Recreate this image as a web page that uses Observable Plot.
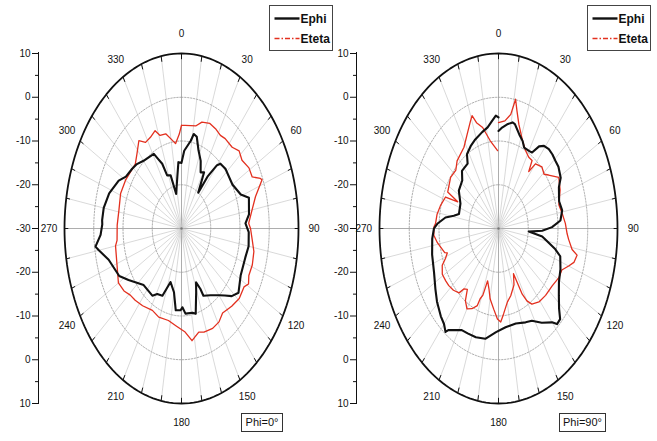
<!DOCTYPE html>
<html>
<head>
<meta charset="utf-8">
<script src="https://cdn.jsdelivr.net/npm/d3@7"></script>
<script src="https://cdn.jsdelivr.net/npm/@observablehq/plot@0.6"></script>
<style>
  html, body { margin: 0; padding: 0; background: #fff; }
  #wrap { position: relative; width: 657px; height: 441px; overflow: hidden; background: #fff; }
  .panel { position: absolute; top: 0; }
  #overlay { position: absolute; left: 0; top: 0; pointer-events: none; }
</style>
</head>
<body>
<div id="wrap"></div>
<script>
// ---------- data ----------
const angleLabels = [0, 30, 60, 90, 120, 150, 180, 210, 240, 270, 300, 330];
const spokeAngles = d3.range(0, 360, 10);
const ringValues = [-20, -10, 0];
const outerValue = 10;
const centreValue = -30;
const radialTicks = [-40, -30, -20, -10, 0, 10, 20, 30, 40];
const radialMinorTicks = [-35, -25, -15, -5, 5, 15, 25, 35];
const seriesNames = ["Ephi", "Eteta"];
const panelTitles = ["Phi=0°", "Phi=90°"];

// Phi = 0°
const phi0EphiAngle = [0,3,9,11,14,18,23,27,31,35,37,40,42,48,60,69,73,82,87,92,100,107,118,127,132,136,140,147,154,155,158,161,166,169,176,179,181,186,190,197,203,209,213,225,237,243,254,260,262,267,272,274,280,288,297,302,309,314,320,331,333,336,338,343,347,353,356,360];
const phi0EphiDb = [-15,-12.2,-9.7,-8,-8.4,-11.2,-13.2,-15.6,-15,-20,-15,-11.1,-10.1,-9.7,-9.9,-8.3,-5.9,-6.7,-8.1,-7,-6.7,-7.2,-7.1,-5.6,-6.9,-8.7,-10.1,-11.8,-12.9,-14.8,-16.7,-14.6,-9.9,-10.4,-10.5,-12,-11.3,-11.2,-15.2,-17.2,-13.3,-12.9,-11.7,-11.7,-8.4,-6.1,-4.1,-1.3,-0.3,-2.3,-2.9,-2.8,-3,-4,-5.9,-7.6,-8.3,-8.8,-9.8,-10.5,-12,-13.8,-16.9,-17.3,-21.9,-18.2,-14.8,-15];
const phi0EtetaAngle = [0,3,12,16,22,27,32,36,43,48,53,59,64,67,68,74,80,87,90,96,102,109,115,119,122,129,136,144,149,155,162,166,172,177,185,192,201,208,217,224,229,234,240,249,260,263,272,281,291,300,307,313,318,324,328,333,338,341,346,350,354,358,360];
const phi0EtetaDb = [-6.4,-6.4,-6,-4.7,-4.1,-4.4,-4.9,-4.6,-4.6,-3.5,-4.1,-3.1,-3.1,-0.7,-0.3,-3.7,-5.5,-7,-6.4,-5.7,-4.7,-4.4,-4.6,-3.8,-4.8,-4.6,-5.3,-6.1,-5.1,-4.8,-5.1,-5.6,-4.1,-6.3,-7.7,-8.5,-8.3,-8.8,-7.9,-7.2,-6.8,-5.7,-5.1,-6.4,-7.1,-7.8,-8,-8.2,-7.7,-7.9,-8.3,-8.4,-7.2,-5.2,-6.8,-6.6,-5.9,-7.5,-7.7,-9.2,-10.5,-8.4,-6.4];

// Phi = 90°
const phi90EphiAngle = [0,3,7,11,13,18,22,25,30,33,36,39,43,47,51,55,61,65,73,79,85,89,92,94,97,101,104,107,114,121,127,132,135,138,140,146,152,157,165,174,182,190,197,203,208,212,216,217,220,224,231,237,245,255,264,270,273,278,281,284,294,303,312,317,325,328,334,339,346,351,355,358,360];
const phi90EphiDb = [-7.7,-6.9,-6,-5.3,-5.5,-7.4,-8.4,-9.6,-9.5,-9.3,-6.8,-5.7,-5.2,-5.2,-5.4,-5.4,-6.1,-7.6,-8.7,-8.2,-9.1,-12,-15.3,-19.8,-15.2,-12.8,-10.3,-8.3,-7.2,-6.3,-4.6,-2.6,-0.7,-0.6,-2,-4,-6.1,-6.7,-7.5,-7.3,-6.3,-4.4,-4,-3.9,-3.7,-2.6,-1.3,-0.4,-1.5,-2.1,-3.4,-4.7,-6.1,-6.9,-7.6,-8.3,-9.4,-12,-14.7,-16.3,-16,-14.1,-13.6,-12,-11.9,-10,-8.9,-8.2,-7.3,-6.6,-5.3,-4.2,-4.6];
const phi90EtetaAngle = [0,5,9,11,13,16,22,27,32,36,38,40,46,51,54,60,67,75,81,87,93,96,101,103,107,110,114,119,126,134,141,147,150,152,154,158,165,170,175,178,181,185,190,193,197,199,201,202,206,210,214,217,220,222,227,232,236,241,246,249,252,253,261,266,271,273,279,285,292,294,296,299,306,313,318,328,334,339,341,343,347,352,359];
const phi90EtetaDb = [-5.8,-5.3,-3.6,0.1,-2.4,-5.2,-8.4,-10,-10.8,-10.8,-13.5,-10.7,-9.7,-10.3,-9.2,-6.6,-7.5,-9,-8.3,-7.5,-6.9,-6.3,-4.8,-2.9,-3.5,-4.9,-6.7,-6.8,-7.7,-8,-8.4,-9.4,-10.9,-13,-18.5,-16.1,-14.1,-12.9,-10.4,-8.6,-9.3,-11.5,-13.7,-15.8,-17.5,-13.9,-12.8,-11,-9.6,-8.8,-10.1,-12.6,-12,-10.2,-9.3,-8.8,-8.6,-8.4,-9.3,-10.9,-11.9,-11.1,-9.2,-8.2,-8.3,-8.8,-9.1,-9.8,-10.8,-15,-11,-10.8,-10.1,-10.4,-9.2,-8.1,-6,-3.7,-2.7,-4.7,-6.3,-9.7,-12.2];

// ---------- helpers ----------
const FONT = "'Liberation Sans Narrow', 'Arial Narrow', 'Liberation Sans', Arial, sans-serif";
const BLACK = "#111";
const RED = "#e3301f";
const rad = Math.PI / 180;
const px = (a, v) => (v - centreValue) * Math.sin(a * rad);
const py = (a, v) => (v - centreValue) * Math.cos(a * rad);
const zip = (A, V) => A.map((a, i) => ({a, v: V[i]}));

function panel({left, axisX, cx, rx, ephi, eteta}) {
  const rings = [];
  for (const rv of ringValues) for (let a = 0; a <= 360; a += 2) rings.push({ring: rv, a, v: rv});
  const outer = d3.range(0, 361, 2).map(a => ({a, v: outerValue}));
  const labelR = outerValue + 4.5;
  const fig = Plot.plot({
    width: 330, height: 441,
    marginLeft: axisX, marginTop: 52, marginBottom: 38, marginRight: 0,
    x: {domain: [-40, 40], range: [cx - rx, cx + rx], axis: null},
    y: {domain: [-40, 40], range: [403, 53]},
    style: {background: "transparent", fontFamily: FONT, fontSize: "10px", overflow: "visible", color: "#111"},
    marks: [
      // spokes
      Plot.link(spokeAngles, {
        x1: () => 0, y1: () => 0,
        x2: a => px(a, outerValue), y2: a => py(a, outerValue),
        stroke: a => a % 90 === 0 ? "axis" : "minor",
        strokeWidth: 0.7
      }),
      // grid rings
      Plot.line(rings, {x: d => px(d.a, d.v), y: d => py(d.a, d.v), z: "ring",
        stroke: "#9a9a9a", strokeWidth: 0.8, strokeDasharray: "1.5,1.5"}),
      // curves
      Plot.line(eteta, {x: d => px(d.a, d.v), y: d => py(d.a, d.v), stroke: RED, strokeWidth: 1.3, strokeLinejoin: "round"}),
      Plot.line(ephi, {x: d => px(d.a, d.v), y: d => py(d.a, d.v), stroke: BLACK, strokeWidth: 2.1, strokeLinejoin: "round"}),
      // outer ring
      Plot.line(outer, {x: d => px(d.a, d.v), y: d => py(d.a, d.v), stroke: BLACK, strokeWidth: 1.8}),
      // outer ring ticks
      Plot.link(spokeAngles, {
        x1: a => px(a, outerValue), y1: a => py(a, outerValue),
        x2: a => px(a, outerValue - 1.3), y2: a => py(a, outerValue - 1.3),
        stroke: BLACK, strokeWidth: 1
      }),
      Plot.dot([0], {x: () => 0, y: () => 0, r: 1.2, fill: "#777"}),
      // angle labels
      Plot.text(angleLabels, {
        x: a => px(a, labelR + 0.8 * Math.abs(Math.sin(a * rad))), y: a => py(a, labelR),
        text: a => String(a), fill: "#111", fontSize: 10
      }),
      // radial axis
      Plot.frame({anchor: "left", stroke: BLACK, strokeWidth: 1}),
      Plot.axisY({ticks: radialTicks, anchor: "left", tickSize: 6, tickPadding: 2,
        tickFormat: d => String(centreValue + Math.abs(d)), label: null, fontSize: 10}),
      Plot.axisY({ticks: radialMinorTicks, anchor: "left", tickSize: 3,
        tickFormat: () => "", label: null})
    ],
    color: {domain: ["axis", "minor"], range: ["#8a8a8a", "#c8c8c8"]}
  });
  fig.setAttribute("class", "panel");
  fig.style.left = left + "px";
  return fig;
}

const wrap = document.getElementById("wrap");
wrap.appendChild(panel({left: 0, axisX: 38, cx: 181, rx: 117,
  ephi: zip(phi0EphiAngle, phi0EphiDb), eteta: zip(phi0EtetaAngle, phi0EtetaDb)}));
wrap.appendChild(panel({left: 327, axisX: 29, cx: 171, rx: 119,
  ephi: zip(phi90EphiAngle, phi90EphiDb), eteta: zip(phi90EtetaAngle, phi90EtetaDb)}));

// ---------- legends and panel tags ----------
const svg = d3.select(wrap).append("svg").attr("id", "overlay")
  .attr("width", 657).attr("height", 441)
  .style("font-family", FONT);

function legend(x, y, w, h) {
  const g = svg.append("g").attr("transform", `translate(${x},${y})`);
  g.append("rect").attr("width", w).attr("height", h).attr("fill", "#fff")
    .attr("stroke", "#444").attr("stroke-width", 1);
  const rows = [{name: seriesNames[0], color: BLACK, dash: null, w: 2.4, y: 13},
                {name: seriesNames[1], color: RED, dash: "5,2,1.5,2", w: 1.4, y: 33}];
  for (const r of rows) {
    g.append("line").attr("x1", 5).attr("x2", 30).attr("y1", r.y).attr("y2", r.y)
      .attr("stroke", r.color).attr("stroke-width", r.w).attr("stroke-dasharray", r.dash);
    g.append("text").attr("x", 31).attr("y", r.y).attr("dy", "0.35em")
      .attr("font-size", 12).attr("font-weight", "bold").attr("fill", "#111").text(r.name);
  }
}
legend(269.5, 5.5, 63, 45);
legend(587.5, 5.5, 63, 45);

function tag(x, y, w, h, label) {
  const g = svg.append("g").attr("transform", `translate(${x},${y})`);
  g.append("rect").attr("width", w).attr("height", h).attr("fill", "#fff")
    .attr("stroke", "#333").attr("stroke-width", 1);
  g.append("text").attr("x", w / 2).attr("y", h / 2).attr("dy", "0.35em")
    .attr("text-anchor", "middle").attr("font-size", 11).attr("fill", "#111").text(label);
}
tag(241.5, 413.5, 41, 18, panelTitles[0]);
tag(559.5, 413.5, 46, 18, panelTitles[1]);
</script>
</body>
</html>
